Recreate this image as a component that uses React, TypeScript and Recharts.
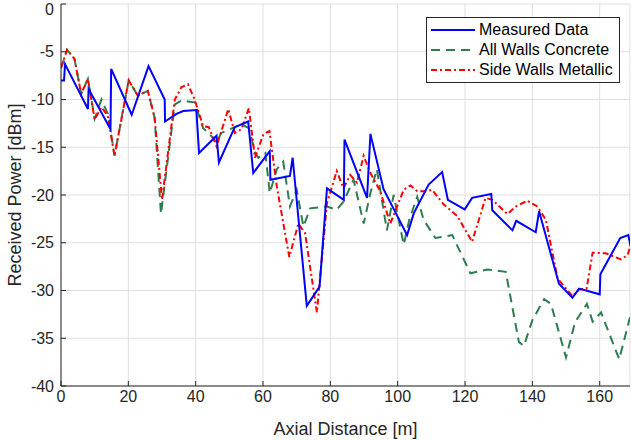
import React from "react"
import { CartesianGrid, Legend, Line, LineChart, XAxis, YAxis } from "recharts"

// Measured data (irregular sample positions)
const measuredX = [0, 0.9, 1.2, 8, 8.2, 14.7, 14.9, 21, 26, 30.8, 30.9, 34.3, 36.3, 40.2, 41, 46.2, 46.9, 51.6, 55.6, 57.1, 62, 62.2, 68, 68.8, 73, 76.8, 79, 84, 84.2, 90.9, 91.9, 95.8, 102.8, 104.8, 109.2, 113.2, 114.9, 119.9, 122.1, 127.8, 128.1, 134.1, 135.2, 141, 142, 147.9, 151.9, 153.9, 160, 160.2, 166.1, 168.5, 169.2]
const measuredY = [-8.0, -8.0, -6.3, -11.0, -8.9, -13.1, -6.8, -11.6, -6.5, -10.0, -12.3, -11.5, -11.2, -11.1, -15.6, -13.8, -16.6, -12.9, -12.3, -17.7, -15.4, -18.4, -18.0, -16.1, -31.6, -29.6, -19.3, -20.5, -14.2, -20.3, -13.6, -19.4, -24.2, -21.9, -18.9, -17.6, -20.5, -21.5, -20.3, -19.9, -21.6, -23.7, -22.7, -23.9, -21.7, -29.3, -30.75, -29.8, -30.4, -28.3, -24.5, -24.2, -25.4]

// Simulation: all walls concrete
const concreteX = [0, 1.8, 4, 6, 8, 10, 12, 13.9, 15.9, 20.1, 22.8, 25.8, 27.8, 29.7, 30.3, 33.8, 35.8, 37.7, 39.7, 42.2, 43.9, 46.2, 47.6, 51.6, 53.6, 55.8, 57.6, 58.6, 60.7, 62, 64.1, 66, 68, 70, 72, 74, 79, 81.9, 83.9, 86.9, 89.9, 91.9, 93.8, 96.8, 98.8, 101.8, 103.5, 105.8, 107.7, 111.2, 116.2, 121.6, 126.6, 132.1, 136, 137.5, 140, 143.5, 145.5, 150, 152.7, 156.2, 157.9, 160.4, 165.8, 169]
const concreteY = [-6.7, -4.8, -5.75, -9.4, -7.85, -12.0, -10.0, -11.5, -15.9, -8.0, -9.6, -9.1, -11.9, -22.0, -20.3, -10.5, -10.1, -10.2, -10.3, -13.0, -13.5, -14.5, -13.5, -12.9, -12.6, -13.0, -15.5, -16.1, -15.6, -19.8, -17.3, -16.5, -21.2, -19.45, -23.3, -21.4, -21.2, -21.55, -20.7, -18.4, -23.0, -19.8, -17.3, -23.7, -20.0, -25.2, -22.5, -20.2, -22.6, -24.5, -24.2, -28.2, -27.8, -28.05, -35.4, -35.8, -33.1, -30.9, -31.4, -37.0, -33.3, -31.4, -33.25, -32.3, -37.2, -32.8]

// Simulation: side walls metallic
const metallicX = [0, 1.8, 4, 6, 8, 10, 12, 13.9, 15.9, 20.1, 22.8, 25.8, 27.8, 30, 33.8, 35.8, 37.7, 39.7, 42.2, 43.9, 46.2, 49.7, 51.6, 53.6, 55.8, 57.6, 60.1, 61.9, 64.1, 67.8, 70.5, 72.5, 76, 79, 81.9, 83.9, 85.9, 87.9, 89.9, 91.9, 94.8, 97.8, 101.8, 103.8, 105.8, 108.7, 110.2, 113.7, 117.7, 122.1, 126.1, 128.1, 132.6, 135.1, 138.5, 141.5, 144, 147.5, 151.9, 153.9, 156.1, 157.9, 161.8, 166.3, 168.3, 169.2]
const metallicY = [-6.7, -4.8, -5.75, -9.4, -7.85, -12.1, -10.8, -11.7, -15.9, -8.0, -9.6, -9.1, -11.9, -20.5, -10.0, -8.7, -8.4, -10.0, -12.8, -12.9, -14.9, -11.0, -13.5, -13.1, -10.9, -16.1, -13.65, -13.3, -19.1, -26.5, -23.0, -24.0, -32.3, -20.85, -17.5, -19.3, -17.9, -18.7, -15.9, -17.7, -19.6, -23.0, -19.45, -19.0, -19.6, -19.6, -19.45, -21.0, -22.2, -24.9, -20.3, -20.5, -22.0, -21.2, -20.6, -21.2, -22.6, -28.75, -30.6, -29.9, -29.8, -26.05, -26.1, -26.75, -26.3, -25.2]

const xTicks = [0, 20, 40, 60, 80, 100, 120, 140, 160]
const yTicks = [-40, -35, -30, -25, -20, -15, -10, -5, 0]

const toPoints = (xs: number[], ys: number[]) => xs.map((x, i) => ({ x, y: ys[i] }))

const measured = toPoints(measuredX, measuredY)
const concrete = toPoints(concreteX, concreteY)
const metallic = toPoints(metallicX, metallicY)

const FONT = '"Liberation Sans", Arial, Helvetica, sans-serif'
const AXIS = "#262626"
const BLUE = "#0000ff"
const GREEN = "#2e7d50"
const RED = "#ff0000"

const legendItems = [
  { name: "Measured Data", color: BLUE, dash: undefined },
  { name: "All Walls Concrete", color: GREEN, dash: "9 6" },
  { name: "Side Walls Metallic", color: RED, dash: "6 3 2 3" },
]

function LegendBox() {
  return (
    <div
      style={{
        border: `1px solid ${AXIS}`,
        background: "#fff",
        width: 192,
        height: 62,
        boxSizing: "content-box",
        paddingTop: 2,
        fontFamily: FONT,
        fontSize: 16,
        color: "#000",
      }}
    >
      {legendItems.map((it) => (
        <div key={it.name} style={{ display: "flex", alignItems: "center", height: 20 }}>
          <svg width={52} height={20} style={{ flex: "none" }}>
            <line x1={4} x2={48} y1={10} y2={10} stroke={it.color} strokeWidth={2} strokeDasharray={it.dash} />
          </svg>
          <span style={{ whiteSpace: "nowrap", lineHeight: "20px" }}>{it.name}</span>
        </div>
      ))}
    </div>
  )
}

export default function App() {
  const tickStyle = { fill: AXIS, fontSize: 16, fontFamily: FONT }
  return (
    <div style={{ position: "absolute", left: 0, top: 0 }}>
      <LineChart width={631} height={440} margin={{ top: 4, right: 1, bottom: 0, left: 0 }}>
        <CartesianGrid stroke="#dfdfdf" strokeWidth={1} />
        <XAxis
          dataKey="x"
          type="number"
          domain={[0, 169]}
          allowDataOverflow
          ticks={xTicks}
          height={54}
          stroke={AXIS}
          tick={tickStyle}
          tickSize={-5}
          tickMargin={10}
          label={{ value: "Axial Distance [m]", position: "insideBottom", offset: 5, fill: AXIS, fontSize: 18, fontFamily: FONT }}
        />
        <XAxis
          xAxisId="top"
          orientation="top"
          type="number"
          domain={[0, 169]}
          allowDataOverflow
          ticks={xTicks}
          height={0}
          stroke={AXIS}
          tickSize={-5}
          tickFormatter={() => ""}
        />
        <YAxis
          type="number"
          domain={[-40, 0]}
          allowDataOverflow
          ticks={yTicks}
          width={61}
          stroke={AXIS}
          tick={tickStyle}
          tickSize={-5}
          tickMargin={12}
          label={{
            value: "Received Power [dBm]",
            angle: -90,
            position: "insideLeft",
            offset: 15,
            fill: AXIS,
            fontSize: 18,
            fontFamily: FONT,
            style: { textAnchor: "middle" },
          }}
        />
        <YAxis
          yAxisId="right"
          orientation="right"
          type="number"
          domain={[-40, 0]}
          allowDataOverflow
          ticks={yTicks}
          width={0}
          stroke={AXIS}
          tickSize={-5}
          tickFormatter={() => ""}
        />
        <Legend
          layout="vertical"
          align="center"
          verticalAlign="middle"
          content={() => <LegendBox />}
          wrapperStyle={{ left: 426, top: 17, width: 194, height: 65 }}
        />
        <Line data={concrete} dataKey="y" name="All Walls Concrete" stroke={GREEN} strokeWidth={2} strokeDasharray="9 6" dot={false} isAnimationActive={false} />
        <Line data={metallic} dataKey="y" name="Side Walls Metallic" stroke={RED} strokeWidth={2} strokeDasharray="6 3 2 3" dot={false} isAnimationActive={false} />
        <Line data={measured} dataKey="y" name="Measured Data" stroke={BLUE} strokeWidth={2} dot={false} isAnimationActive={false} />
      </LineChart>
    </div>
  )
}
